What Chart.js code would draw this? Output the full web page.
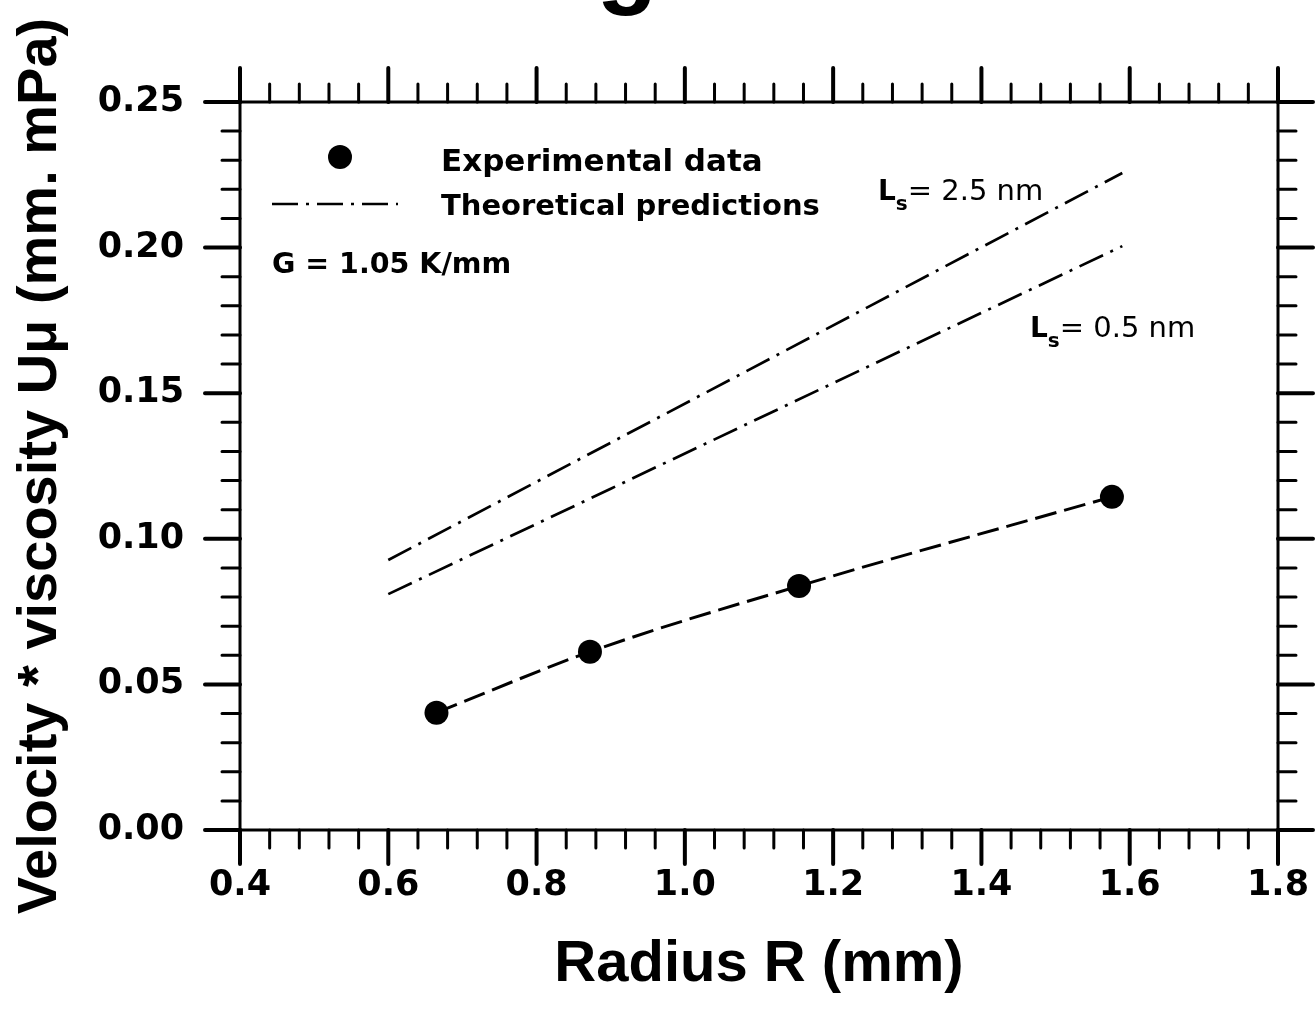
<!DOCTYPE html>
<html>
<head>
<meta charset="utf-8">
<script src="https://cdn.jsdelivr.net/npm/chart.js@4.4.1/dist/chart.umd.min.js"></script>
<style>
  html, body { margin: 0; padding: 0; background: #fff; overflow: hidden; }
  canvas { display: block; }
</style>
</head>
<body>
<canvas id="myChart" width="1315" height="1027"></canvas>
<script>
// measured points (radius in mm, velocity*viscosity)
const expRadius = [0.665, 0.872, 1.154, 1.576];
const expValue = [0.0403, 0.0612, 0.0838, 0.1144];

// theoretical predictions
const theoryRadius = [0.6, 0.9, 1.25, 1.59];
const theoryLs25 = [0.0927, 0.1330, 0.1800, 0.2256];
const theoryLs05 = [0.0810, 0.1172, 0.1595, 0.2005];

// axis ticks
const xTicks = [0.4, 0.6, 0.8, 1.0, 1.2, 1.4, 1.6, 1.8];
const yTicks = [0.00, 0.05, 0.10, 0.15, 0.20, 0.25];

const ctx = document.getElementById('myChart').getContext('2d');

function toPoints(xs, ys) {
  return xs.map((x, i) => ({ x: x, y: ys[i] }));
}

// frame with outward major/minor ticks, legend and labels
const framePlugin = {
  id: 'frame',
  afterDraw(chart) {
    const c = chart.ctx;
    const { left, right, top, bottom } = chart.chartArea;
    const xs = chart.scales.x, ys = chart.scales.y;
    c.save();
    c.strokeStyle = '#000';
    c.fillStyle = '#000';
    c.lineWidth = 3;
    c.strokeRect(left, top, right - left, bottom - top);

    c.lineCap = 'round';
    const xMinor = 0.04, yMinor = 0.01;
    const nx = Math.round((xs.max - xs.min) / xMinor);
    for (let i = 0; i <= nx; i++) {
      const px = xs.getPixelForValue(xs.min + i * xMinor);
      const major = i % 5 === 0;
      const len = major ? 34 : 18;
      c.lineWidth = major ? 4 : 3;
      c.beginPath();
      c.moveTo(px, bottom); c.lineTo(px, bottom + len);
      c.moveTo(px, top); c.lineTo(px, top - len);
      c.stroke();
    }
    const ny = Math.round((ys.max - ys.min) / yMinor);
    for (let i = 0; i <= ny; i++) {
      const py = ys.getPixelForValue(ys.min + i * yMinor);
      const major = i % 5 === 0;
      const len = major ? 35 : 18;
      c.lineWidth = major ? 4 : 3;
      c.beginPath();
      c.moveTo(left, py); c.lineTo(left - len, py);
      c.moveTo(right, py); c.lineTo(right + len, py);
      c.stroke();
    }

    // legend
    const ds = chart.data.datasets;
    c.lineCap = 'butt';
    c.beginPath();
    c.arc(340, 157, 12, 0, Math.PI * 2);
    c.fill();
    c.lineWidth = ds[1].borderWidth;
    c.setLineDash(ds[1].borderDash);
    c.beginPath();
    c.moveTo(272, 204); c.lineTo(398, 204);
    c.stroke();
    c.setLineDash([]);

    c.textAlign = 'left';
    c.textBaseline = 'alphabetic';
    c.font = 'bold 31px "DejaVu Sans"';
    c.fillText(ds[0].label, 441, 171);
    c.font = 'bold 29px "DejaVu Sans"';
    c.fillText('Theoretical predictions', 441, 215);
    c.font = 'bold 28.5px "DejaVu Sans"';
    c.fillText('G = 1.05 K/mm', 272, 273);

    drawLs(c, 878, 200, '2.5');
    drawLs(c, 1030, 337, '0.5');

    // clipped title above the frame
    c.textAlign = 'center';
    c.font = 'bold 100px "Liberation Sans"';
    c.fillText('g', 627, -5);
    c.restore();
  }
};

function drawLs(c, x, yBase, value) {
  c.textAlign = 'left';
  c.font = 'bold 28px "DejaVu Sans"';
  c.fillText('L', x, yBase);
  let w = c.measureText('L').width;
  c.font = 'bold 20px "DejaVu Sans"';
  c.fillText('s', x + w, yBase + 10);
  w += c.measureText('s').width;
  c.font = '29px "DejaVu Sans"';
  c.fillText('= ' + value + ' nm', x + w, yBase);
}

const myChart = new Chart(ctx, {
  type: 'scatter',
  data: {
    datasets: [
      {
        label: 'Experimental data',
        data: toPoints(expRadius, expValue),
        showLine: true,
        borderColor: '#000',
        borderWidth: 3,
        borderDash: [22, 8],
        cubicInterpolationMode: 'monotone',
        pointRadius: 12,
        pointBackgroundColor: '#000',
        pointBorderWidth: 0
      },
      {
        label: 'Ls = 2.5 nm',
        data: toPoints(theoryRadius, theoryLs25),
        showLine: true,
        borderColor: '#000',
        borderWidth: 2.7,
        borderDash: [26, 8, 3, 8],
        pointRadius: 0
      },
      {
        label: 'Ls = 0.5 nm',
        data: toPoints(theoryRadius, theoryLs05),
        showLine: true,
        borderColor: '#000',
        borderWidth: 2.7,
        borderDash: [26, 8, 3, 8],
        pointRadius: 0
      }
    ]
  },
  options: {
    responsive: false,
    animation: false,
    devicePixelRatio: 1,
    layout: { padding: { top: 102, right: 37, left: 0, bottom: 0 } },
    plugins: {
      legend: { display: false },
      tooltip: { enabled: false }
    },
    scales: {
      x: {
        type: 'linear',
        min: 0.4,
        max: 1.8,
        afterBuildTicks: (s) => { s.ticks = xTicks.map(v => ({ value: v })); },
        afterFit: (s) => {
          s.height = 197;
          // let the end labels hang over the padding instead of shrinking the plot
          s.paddingLeft = 0;
          s.paddingRight = 0;
        },
        ticks: {
          callback: (v) => Number(v).toFixed(1),
          font: { family: '"DejaVu Sans"', weight: 'bold', size: 35 },
          color: '#000',
          padding: 35,
          maxRotation: 0,
          autoSkip: false
        },
        grid: { display: false, drawTicks: false },
        border: { display: false },
        title: {
          display: true,
          text: 'Radius R (mm)',
          font: { family: '"Liberation Sans"', weight: 'bold', size: 58 },
          color: '#000',
          padding: { top: 0, bottom: 27 }
        }
      },
      y: {
        type: 'linear',
        min: 0,
        max: 0.25,
        afterBuildTicks: (s) => { s.ticks = yTicks.map(v => ({ value: v })); },
        afterFit: (s) => {
          s.width = 240;
          s.paddingTop = 0;
          s.paddingBottom = 0;
        },
        ticks: {
          callback: (v) => Number(v).toFixed(2),
          font: { family: '"DejaVu Sans"', weight: 'bold', size: 35 },
          color: '#000',
          padding: 56,
          autoSkip: false
        },
        grid: { display: false, drawTicks: false },
        border: { display: false },
        title: {
          display: true,
          text: 'Velocity * viscosity U\u03bc (mm. mPa)',
          font: { family: '"Liberation Sans"', weight: 'bold', size: 56 },
          color: '#000',
          padding: { top: 7, bottom: 0 }
        }
      }
    }
  },
  plugins: [framePlugin]
});
</script>
</body>
</html>
